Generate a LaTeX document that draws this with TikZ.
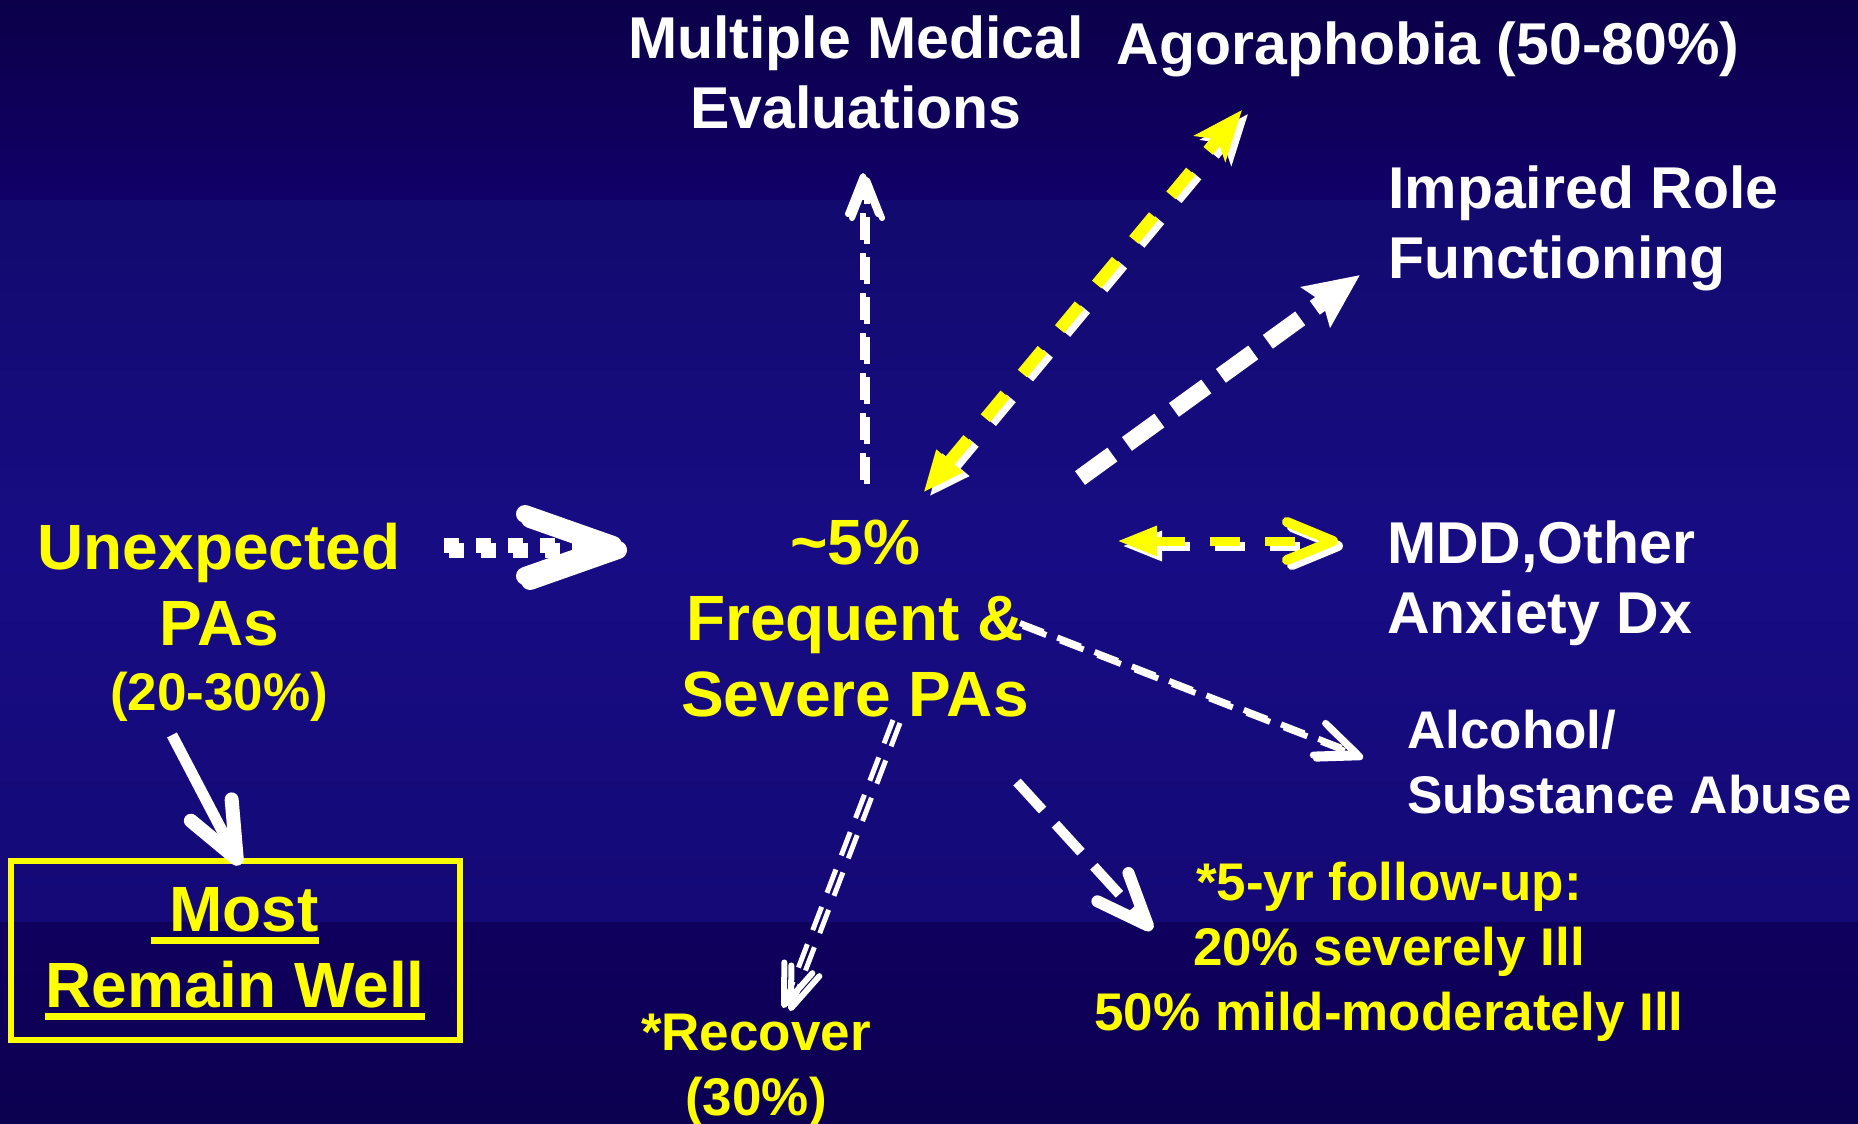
\documentclass[tikz,border=0pt]{standalone}
\usepackage{fontspec}
\setmainfont{Liberation Sans}
\usetikzlibrary{arrows.meta}

\definecolor{navyA}{RGB}{11,0,73}
\definecolor{navyB}{RGB}{17,0,104}
\definecolor{navyC}{RGB}{18,10,110}
\definecolor{navyD}{RGB}{24,12,132}
\definecolor{navyE}{RGB}{20,9,118}
\definecolor{navyF}{RGB}{15,0,94}
\definecolor{navyG}{RGB}{12,0,80}
\definecolor{ylw}{RGB}{255,255,0}

\newsavebox\ulbox
\newcommand\ulbar[1]{\sbox\ulbox{#1}\rlap{\rule[-13pt]{\wd\ulbox}{7pt}}\usebox\ulbox}

\begin{document}
\begin{tikzpicture}[x=1pt,y=-1pt,
  fontM/.style={font=\fontsize{59}{70}\selectfont\bfseries},
  fontL/.style={font=\fontsize{64}{76}\selectfont\bfseries},
  fontS/.style={font=\fontsize{53}{65}\selectfont\bfseries},
  txtW/.style={text=white,inner sep=0pt},
  txtY/.style={text=ylw,inner sep=0pt},
  dotted arrow/.style={white,line width=15pt,dash pattern=on 15pt off 17pt,
    -{Straight Barb[length=88pt,width=62pt,line width=18pt,round]}},
  thin arrow/.style={white,line width=6pt,dash pattern=on 27pt off 13pt,
    -{Straight Barb[length=38pt,width=30pt,line width=6pt,round]}},
  twin arrow/.style={line width=12pt,dash pattern=on 31pt off 27pt,
    {Triangle[length=42pt,width=32pt]}-{Stealth[length=50pt,width=40pt,inset=12pt]}},
  bold arrow/.style={white,line width=17pt,dash pattern=on 40pt off 18pt,
    -{Stealth[length=54pt,width=48pt,inset=8pt]}},
  flat twin/.style={line width=9pt,dash pattern=on 30pt off 25pt,
    {Triangle[length=40pt,width=28pt]}-{Straight Barb[length=46pt,width=38pt,line width=10pt,round]}},
  fine arrow/.style={white,line width=6pt,dash pattern=on 25pt off 15pt,
    -{Straight Barb[length=40pt,width=34pt,line width=7pt,round]}},
  mid arrow/.style={white,line width=10pt,dash pattern=on 38pt off 19pt,
    -{Straight Barb[length=52pt,width=42pt,line width=12pt,round]}},
  slim arrow/.style={white,line width=5pt,dash pattern=on 25pt off 15pt,
    -{Straight Barb[length=40pt,width=30pt,line width=6pt,round]}},
  solid arrow/.style={white,line width=11pt,
    -{Straight Barb[length=55pt,width=46pt,line width=14pt,round]}},
  offset/.style={transform canvas={xshift=#1pt,yshift=-#1pt}},
]
\useasboundingbox (0,0) rectangle (1858,1124);

% background bands
\shade[top color=navyA,bottom color=navyB] (0,0) rectangle (1858,200);
\shade[top color=navyC,bottom color=navyD] (0,200) rectangle (1858,560);
\shade[top color=navyD,bottom color=navyE] (0,560) rectangle (1858,922);
\shade[top color=navyF,bottom color=navyG] (0,922) rectangle (1858,1124);

% texts
\node[txtW,fontM,anchor=north,align=center] (mme) at (856,16) {Multiple Medical\\Evaluations};
\node[txtW,fontM,anchor=base] (agora) at (1428,65) {Agoraphobia (50-80\%)};
\node[txtW,fontM,anchor=north west,align=left] (role) at (1388,166) {Impaired Role\\Functioning};
\node[txtW,fontM,anchor=north west,align=left] (mdd) at (1387,521) {MDD,Other\\Anxiety Dx};
\node[txtW,fontS,anchor=north west,align=left] (alc) at (1407,710) {Alcohol/\\Substance Abuse};
\node[txtY,fontS,anchor=north,align=center] (fu) at (1389,862) {*5-yr follow-up:\\20\% severely Ill\\50\% mild-moderately Ill};
\node[txtY,fontS,anchor=north,align=center] (rec) at (756,1014) {*Recover\\(30\%)};
\node[txtY,fontL,anchor=north,align=center] (sev) at (855,520) {\textasciitilde5\%\\Frequent \&\\Severe PAs};
\node[txtY,fontL,anchor=north,align=center] (unexp) at (219,523) {Unexpected\\PAs};
\node[txtY,fontS,anchor=base] (unexpPct) at (219,710) {(20-30\%)};

% outcome box
\node[draw=ylw,line width=6pt,minimum width=449pt,minimum height=179pt,inner sep=0pt] (well) at (235.5,950.5) {};
\node[txtY,fontL,anchor=north,align=center] (wellTxt) at (235,887) {\ulbar{\ Most}\\\ulbar{Remain Well}};

% connector ends
\coordinate (u2c) at (444,545);   \coordinate (c4u) at (622,545);
\coordinate (c2m) at (863,480);   \coordinate (m4c) at (863,173);
\coordinate (ag1) at (923,493);   \coordinate (ag2) at (1242,110);
\coordinate (c2r) at (1080,478);  \coordinate (r4c) at (1360,275);
\coordinate (md1) at (1117,541);  \coordinate (md2) at (1338,541);
\coordinate (c2a) at (1020,623);  \coordinate (a4c) at (1360,755);
\coordinate (c2f) at (1017,782);  \coordinate (f4c) at (1152,930);
\coordinate (c2rec) at (893,720); \coordinate (rec4c) at (783,1008);
\coordinate (u2w) at (172,735);   \coordinate (w4u) at (240,865);

% connectors
\draw[dotted arrow,offset=5] (u2c) -- (c4u);
\draw[dotted arrow] (u2c) -- (c4u);

\draw[thin arrow,offset=4] (c2m) -- (m4c);
\draw[thin arrow] (c2m) -- (m4c);

\draw[twin arrow,white,transform canvas={xshift=6pt,yshift=-4pt}] (ag1) -- (ag2);
\draw[twin arrow,ylw] (ag1) -- (ag2);

\draw[bold arrow] (c2r) -- (r4c);

\draw[flat twin,white,offset=5] (md1) -- (md2);
\draw[flat twin,ylw] (md1) -- (md2);

\draw[fine arrow,offset=3] (c2a) -- (a4c);
\draw[fine arrow] (c2a) -- (a4c);

\draw[mid arrow] (c2f) -- (f4c);

\draw[slim arrow,transform canvas={xshift=7pt,yshift=-3pt}] (c2rec) -- (rec4c);
\draw[slim arrow] (c2rec) -- (rec4c);

\draw[solid arrow] (u2w) -- (w4u);
\end{tikzpicture}
\end{document}
